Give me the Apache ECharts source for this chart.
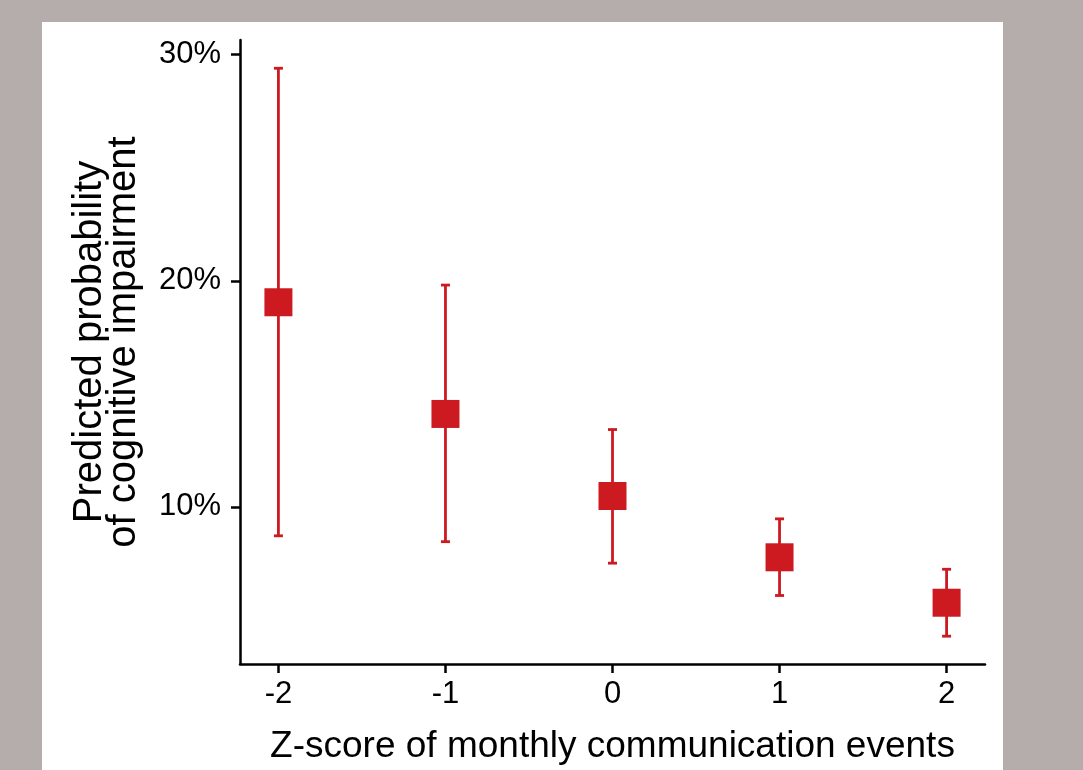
<!DOCTYPE html>
<html>
<head>
<meta charset="utf-8">
<script src="https://cdn.jsdelivr.net/npm/echarts@6/dist/echarts.min.js"></script>
<style>
  html, body { margin: 0; padding: 0; width: 1083px; height: 770px; background: #b5adab; overflow: hidden; }
  #panel { position: absolute; left: 42px; top: 22px; width: 961px; height: 748px; background: #ffffff; }
  #chart { position: absolute; left: 0; top: 0; width: 1083px; height: 770px; }
</style>
</head>
<body>
<div id="panel"></div>
<div id="chart"></div>
<script>
// Z-score of monthly communication events and predicted probability (%) with 95% CI
const zScores   = [-2, -1, 0, 1, 2];
const predicted = [19.05, 14.11, 10.48, 7.77, 5.76];
const lowerCI   = [8.72, 8.46, 7.51, 6.08, 4.28];
const upperCI   = [29.40, 19.81, 13.42, 9.47, 7.24];
const yTicks    = [10, 20, 30];

const RED = '#cc1a20';
const FONT = '"Liberation Sans", Arial, sans-serif';

const chart = echarts.init(document.getElementById('chart'), null, { renderer: 'canvas' });

const errorData = zScores.map((z, i) => [z, lowerCI[i], upperCI[i]]);
const pointData = zScores.map((z, i) => [z, predicted[i]]);

chart.setOption({
  backgroundColor: 'transparent',
  animation: false,
  grid: { left: 240, right: 98, top: 40, bottom: 104 },
  xAxis: {
    type: 'value',
    min: -2.23,
    max: 2.23,
    name: 'Z-score of monthly communication events',
    nameLocation: 'middle',
    nameGap: 64,
    nameTextStyle: { fontFamily: FONT, fontSize: 37, color: '#000' },
    splitLine: { show: false },
    axisLine: { show: true, onZero: false, lineStyle: { color: '#000', width: 2.5 } },
    axisTick: { show: true, length: 9, lineStyle: { color: '#000', width: 2.5 }, customValues: zScores },
    axisLabel: { fontFamily: FONT, fontSize: 31, color: '#000', margin: 15, customValues: zScores }
  },
  yAxis: {
    type: 'value',
    min: 3.05,
    max: 30.65,
    name: 'Predicted probability\nof cognitive impairment',
    nameLocation: 'middle',
    nameRotate: 90,
    nameGap: 99,
    nameTextStyle: {
      fontFamily: FONT, fontSize: 40, color: '#000', lineHeight: 34, align: 'center',
      padding: [0, 0, 0, 20]
    },
    splitLine: { show: false },
    axisLine: { show: true, onZero: false, lineStyle: { color: '#000', width: 2.5 } },
    axisTick: { show: true, length: 9, lineStyle: { color: '#000', width: 2.5 }, customValues: yTicks },
    axisLabel: {
      fontFamily: FONT, fontSize: 31, color: '#000', margin: 19,
      customValues: yTicks,
      formatter: v => v + '%'
    }
  },
  series: [
    {
      type: 'custom',
      name: 'CI',
      data: errorData,
      renderItem: function (params, api) {
        const x = api.value(0);
        const lo = api.coord([x, api.value(1)]);
        const hi = api.coord([x, api.value(2)]);
        const capHalf = 4.5;
        const style = { stroke: RED, lineWidth: 2.8, fill: null };
        return {
          type: 'group',
          children: [
            { type: 'line', shape: { x1: lo[0], y1: lo[1], x2: hi[0], y2: hi[1] }, style: style },
            { type: 'line', shape: { x1: hi[0] - capHalf, y1: hi[1], x2: hi[0] + capHalf, y2: hi[1] }, style: style },
            { type: 'line', shape: { x1: lo[0] - capHalf, y1: lo[1], x2: lo[0] + capHalf, y2: lo[1] }, style: style }
          ]
        };
      },
      z: 2
    },
    {
      type: 'scatter',
      name: 'Predicted',
      data: pointData,
      symbol: 'rect',
      symbolSize: 28,
      itemStyle: { color: RED, opacity: 1 },
      z: 3
    }
  ]
});
</script>
</body>
</html>
